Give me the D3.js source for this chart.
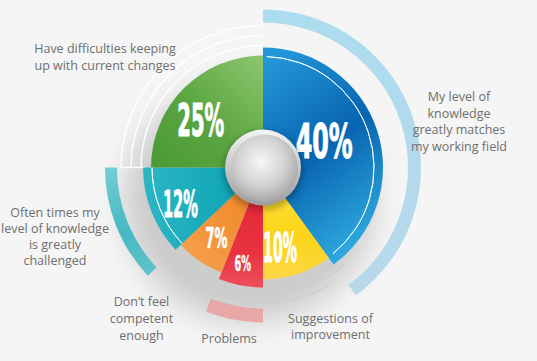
<!DOCTYPE html>
<html><head><meta charset="utf-8">
<script src="https://cdn.jsdelivr.net/npm/d3@7"></script>
<style>
html,body{margin:0;padding:0;background:#f5f5f5;}
svg{display:block;}
</style></head>
<body>
<script>
// ---- data ----
const categories = [
  "My level of knowledge greatly matches my working field",
  "Suggestions of improvement",
  "Problems",
  "Don't feel competent enough",
  "Often times my level of knowledge is greatly challenged",
  "Have difficulties keeping up with current changes"
];
const values = [40, 10, 6, 7, 12, 25];
const valueLabels = ["40%", "10%", "6%", "7%", "12%", "25%"];
const labelLines = [
  ["My level of", "knowledge", "greatly matches", "my working field"],
  ["Suggestions of", "improvement"],
  ["Problems"],
  ["Don\u2019t feel", "competent", "enough"],
  ["Often times my", "level of knowledge", "is greatly", "challenged"],
  ["Have difficulties keeping", "up with current changes"]
];

// ---- style ----
const W = 537, H = 361, cx = 263, cy = 167.5;
const outerR = [120, 112, 120, 113, 120, 112];
const pctSize = [48.5, 40, 22, 29, 37.5, 44];
const pctWidth = [57, 34, 16.5, 22, 35, 47];
const pctR = [67, 82, 98, 84, 90, 78];
const pctAngOff = [-6, 6, 1.2, -0.6, -1.8, -8];
const grads = [
  [["0%","#2396d8"],["50%","#0864b0"],["100%","#2eaadf"]],
  [["0%","#fde74a"],["60%","#fbd416"],["100%","#fbd846"]],
  [["0%","#e52433"],["70%","#e8323f"],["100%","#ec4f5b"]],
  [["0%","#ee8122"],["100%","#f6a34e"]],
  [["0%","#2cb6c4"],["100%","#06a0b0"]],
  [["0%","#8ec66e"],["55%","#5aa542"],["100%","#4b9a36"]]
];
const gradDir = [[0.2,0,0.6,1],[0,0,0,1],[0,0,0,1],[1,0,0,1],[0,0,1,0],[1,0,0,1]];
const textPos = [
  {x:459, y:101, dy:16.7},
  {x:330.5, y:322.5, dy:16.5},
  {x:229, y:343, dy:16.5},
  {x:141.5, y:306, dy:17},
  {x:55, y:216.5, dy:16.3},
  {x:105, y:52.5, dy:17.4}
];

const svg = d3.select("body").append("svg").attr("width", W).attr("height", H);
const defs = svg.append("defs");

svg.append("rect").attr("width", W).attr("height", H).attr("fill", "#f5f5f5");

const pie = d3.pie().sort(null).value(d => d)(values);
const deg = Math.PI / 180;

pie.forEach((p, i) => {
  const g = defs.append("linearGradient").attr("id", "g" + i)
    .attr("x1", gradDir[i][0]).attr("y1", gradDir[i][1])
    .attr("x2", gradDir[i][2]).attr("y2", gradDir[i][3]);
  grads[i].forEach(s => g.append("stop").attr("offset", s[0]).attr("stop-color", s[1]));
});
const blurF = defs.append("filter").attr("id", "blur").attr("x", "-50%").attr("y", "-50%").attr("width", "200%").attr("height", "200%");
blurF.append("feGaussianBlur").attr("stdDeviation", 15);
const blurS = defs.append("filter").attr("id", "blurS").attr("x", "-50%").attr("y", "-50%").attr("width", "200%").attr("height", "200%");
blurS.append("feGaussianBlur").attr("stdDeviation", 3);

const rim = defs.append("linearGradient").attr("id", "rim").attr("x1", 0).attr("y1", 0).attr("x2", 0).attr("y2", 1);
rim.append("stop").attr("offset", "0%").attr("stop-color", "#f4f4f4");
rim.append("stop").attr("offset", "100%").attr("stop-color", "#9c9c9c");
const ball = defs.append("radialGradient").attr("id", "ball").attr("cx", "45%").attr("cy", "40%").attr("r", "60%");
ball.append("stop").attr("offset", "0%").attr("stop-color", "#f7f7f7");
ball.append("stop").attr("offset", "60%").attr("stop-color", "#d2d2d2");
ball.append("stop").attr("offset", "100%").attr("stop-color", "#a9a9a9");
const shadeBand = defs.append("radialGradient").attr("id", "shadeBand")
  .attr("gradientUnits", "userSpaceOnUse").attr("cx", cx).attr("cy", cy).attr("r", 125);
shadeBand.append("stop").attr("offset", "88%").attr("stop-color", "#5e5e5e");
shadeBand.append("stop").attr("offset", "94%").attr("stop-color", "#8c8c8c");
shadeBand.append("stop").attr("offset", "100%").attr("stop-color", "#cdcdcd");
const blueBand = defs.append("linearGradient").attr("id", "blueBand").attr("x1", 0).attr("y1", 0).attr("x2", 0).attr("y2", 1);
blueBand.append("stop").attr("offset", "0%").attr("stop-color", "#acdcef");
blueBand.append("stop").attr("offset", "100%").attr("stop-color", "#b8d8ea");
const tealBand = defs.append("linearGradient").attr("id", "tealBand").attr("x1", 0).attr("y1", 0).attr("x2", 0).attr("y2", 1);
tealBand.append("stop").attr("offset", "0%").attr("stop-color", "#6ccbd3");
tealBand.append("stop").attr("offset", "60%").attr("stop-color", "#3db6c1");
tealBand.append("stop").attr("offset", "100%").attr("stop-color", "#5cc2cb");

const root = svg.append("g").attr("transform", `translate(${cx},${cy})`);

// soft shadow under pie
root.append("ellipse").attr("cx", -14).attr("cy", 34).attr("rx", 125).attr("ry", 120)
  .attr("fill", "#000").attr("opacity", 0.17).attr("filter", "url(#blur)");

// thin decorative lines
const line = (r, a0, a1) => d3.arc().innerRadius(r).outerRadius(r).startAngle(a0 * deg).endAngle(a1 * deg)();
const thin = root.append("g").attr("fill", "none");
[[122, 270, 360], [132, 270, 360], [142, 270, 360]].forEach(d =>
  thin.append("path").attr("d", line(d[0], d[1], d[2])).attr("stroke", "#ffffff").attr("stroke-width", 1.4));
thin.append("line").attr("x1", -118).attr("y1", 0).attr("x2", -142).attr("y2", 0).attr("stroke", "#fff").attr("stroke-width", 1.4);
[[127, 140, 226], [135, 150, 226]].forEach(d =>
  thin.append("path").attr("d", line(d[0], d[1], d[2])).attr("stroke", "#cdcdcd").attr("stroke-width", 1.1));
{
  const a = 226 * deg;
  thin.append("line")
    .attr("x1", 124 * Math.sin(a)).attr("y1", -124 * Math.cos(a))
    .attr("x2", 135 * Math.sin(a)).attr("y2", -135 * Math.cos(a))
    .attr("stroke", "#cdcdcd").attr("stroke-width", 1.1);
}

// coloured outer bands tied to slices
const band = (p, r0, r1) => d3.arc().innerRadius(r0).outerRadius(r1).startAngle(p.startAngle).endAngle(p.endAngle)();
root.append("path").attr("d", band(pie[0], 145, 158)).attr("fill", "url(#blueBand)");
root.append("path").attr("d", band(pie[4], 146, 158)).attr("fill", "url(#tealBand)").attr("opacity", 0.95);
root.append("path").attr("d", band(pie[2], 141, 155)).attr("fill", "#e9a2a2").attr("opacity", 0.9);

// grey rim band under the lower slices
root.append("path").attr("d", d3.arc().innerRadius(100).outerRadius(123)
  .startAngle(pie[1].startAngle - 2 * deg).endAngle(pie[3].endAngle + 2 * deg)()).attr("fill", "url(#shadeBand)");

// slices
root.selectAll("path.slice").data(pie).join("path").attr("class", "slice")
  .attr("d", (p, i) => d3.arc().innerRadius(0).outerRadius(outerR[i])(p))
  .attr("fill", (p, i) => `url(#g${i})`);

// thin white circle line
[pie[0], pie[4]].forEach(p =>
  root.append("path").attr("d", d3.arc().innerRadius(111).outerRadius(111)
    .startAngle(p.startAngle + (p === pie[0] ? 2 * deg : 0)).endAngle(p.endAngle - (p === pie[0] ? 3 * deg : 0))())
    .attr("fill", "none").attr("stroke", "#fff").attr("stroke-opacity", 0.85).attr("stroke-width", 1));

// percentage labels (condensed by horizontal scaling)
root.selectAll("text.pct").data(pie).join("text").attr("class", "pct")
  .each(function (p, i) {
    const a = (p.startAngle + p.endAngle) / 2 + pctAngOff[i] * deg;
    const x = pctR[i] * Math.sin(a), y = -pctR[i] * Math.cos(a) + pctSize[i] * 0.36;
    const t = d3.select(this)
      .attr("text-anchor", "middle")
      .attr("font-family", "'Liberation Sans Narrow', 'DejaVu Sans Condensed', sans-serif")
      .attr("font-weight", "bold").attr("font-size", pctSize[i])
      .attr("fill", "#fff").attr("stroke", "#fff").attr("stroke-width", pctSize[i] / 45)
      .attr("stroke-linejoin", "round")
      .text(valueLabels[i]);
    const w = this.getComputedTextLength();
    t.attr("transform", `translate(${x},${y}) scale(${pctWidth[i] / w},1)`);
  });

// centre sphere
root.append("circle").attr("r", 40).attr("cy", 3).attr("fill", "#000").attr("opacity", 0.25).attr("filter", "url(#blurS)");
root.append("circle").attr("r", 38).attr("fill", "url(#rim)");
root.append("circle").attr("r", 33.5).attr("cx", 1.5).attr("cy", 0.5).attr("fill", "url(#ball)");

// category text
const tg = svg.append("g").attr("font-family", "'Open Sans', sans-serif").attr("font-size", 12.5)
  .attr("fill", "#6e6e6e").attr("text-anchor", "middle");
labelLines.forEach((lines, i) => {
  const t = tg.append("text");
  lines.forEach((s, k) => t.append("tspan").attr("x", textPos[i].x).attr("y", textPos[i].y + k * textPos[i].dy).text(s));
});
</script>
</body></html>
